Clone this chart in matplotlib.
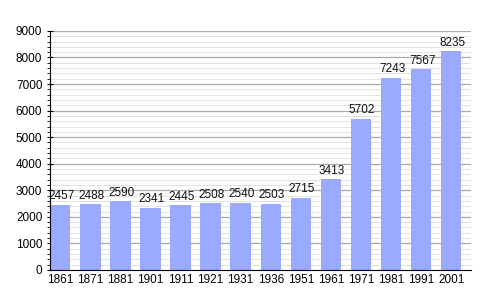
from matplotlib import pyplot as plt
import numpy as np

plt.rcParams['font.family'] = ['Liberation Sans', 'DejaVu Sans']

years = ['1861', '1871', '1881', '1901', '1911', '1921', '1931', '1936',
         '1951', '1961', '1971', '1981', '1991', '2001']
population = [2457, 2488, 2590, 2341, 2445, 2508, 2540, 2503,
              2715, 3413, 5702, 7243, 7567, 8235]

fig = plt.figure(figsize=(5, 3), dpi=100)
ax = fig.add_axes([0.1, 0.1, 0.842, 0.797])

# light grid every 200, darker every 1000
for y in np.arange(200, 9001, 200):
    if y % 1000 == 0:
        ax.axhline(y, color='#aaaaaa', lw=0.9, zorder=0)
    else:
        ax.axhline(y, color='#e2e2e2', lw=0.7, zorder=0)

x = np.arange(len(years))
bars = ax.bar(x, population, width=0.68, align='edge', color='#99aaff', zorder=2)
for xi, v in zip(x, population):
    ax.text(xi + 0.38, v + 90, str(v), ha='center', va='bottom', fontsize=8.5, color='#111111')

ax.set_xlim(0, len(years))
ax.set_ylim(0, 9000)
ax.set_xticks(x + 0.34)
ax.set_xticklabels(years, fontsize=8.5)
ax.tick_params(axis='x', length=0, pad=3)
ax.set_yticks(np.arange(0, 9001, 1000))
ax.set_yticks(np.arange(0, 9001, 200), minor=True)
ax.tick_params(axis='y', which='major', labelsize=8.5, length=4, direction='inout')
ax.tick_params(axis='y', which='minor', length=2.5, direction='out')
ax.spines['right'].set_visible(False)
ax.spines['top'].set_visible(False)

plt.savefig('out.png')
